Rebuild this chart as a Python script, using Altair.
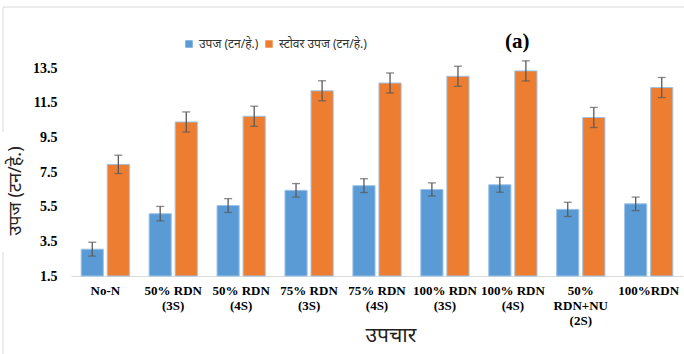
import altair as alt
import pandas as pd

categories = ["No-N", "50% RDN|(3S)", "50% RDN|(4S)", "75% RDN|(3S)", "75% RDN|(4S)",
              "100% RDN|(3S)", "100% RDN|(4S)", "50%|RDN+NU|(2S)", "100%RDN"]
series = ["उपज (टन/हे.)", "स्टोवर उपज (टन/हे.)"]
grain = [3.05, 5.1, 5.57, 6.45, 6.72, 6.5, 6.77, 5.35, 5.67]
grain_err = [0.4, 0.42, 0.4, 0.39, 0.4, 0.38, 0.43, 0.41, 0.39]
stover = [7.95, 10.4, 10.73, 12.2, 12.65, 13.04, 13.35, 10.66, 12.39]
stover_err = [0.53, 0.58, 0.58, 0.58, 0.58, 0.58, 0.58, 0.58, 0.58]
y_ticks = [1.5, 3.5, 5.5, 7.5, 9.5, 11.5, 13.5]
colors = ["#5B9BD5", "#ED7D31"]

rows = []
for i, c in enumerate(categories):
    rows.append({"cat": c, "series": series[0], "val": grain[i], "err": grain_err[i]})
    rows.append({"cat": c, "series": series[1], "val": stover[i], "err": stover_err[i]})
df = pd.DataFrame(rows)
df["lo"] = df["val"] - df["err"]
df["hi"] = df["val"] + df["err"]

DEV = "Noto Sans, sans-serif"
SERIF = "Liberation Serif, Times New Roman, serif"

xscale = alt.Scale(paddingInner=0.29, paddingOuter=0.15)
xaxis = alt.Axis(title=None, labelExpr="split(datum.label, '|')",
                 labelAngle=0, labelFont=SERIF, labelFontWeight="bold",
                 labelFontSize=13, labelColor="#000000", labelPadding=8,
                 labelLineHeight=15, ticks=False, domainColor="#D9D9D9",
                 labelLimit=200, labelOverlap=False)
yaxis = alt.Axis(title=None, values=y_ticks, format=".1f", grid=False,
                 domain=False, ticks=False, labelFont=SERIF,
                 labelFontWeight="bold", labelFontSize=14,
                 labelColor="#000000", labelPadding=14,
                 labelOverlap=False)
xenc = alt.X("cat:N", sort=categories, scale=xscale, axis=xaxis)
xoff = alt.XOffset("series:N", sort=series,
                   scale=alt.Scale(paddingInner=0.15, paddingOuter=0))
yscale = alt.Scale(domain=[1.5, 14.5], nice=False, zero=False)

base = alt.Chart(df)

bars = base.mark_bar(stroke="#9DC3E6", strokeWidth=1).encode(
    x=xenc, xOffset=xoff,
    y=alt.Y("val:Q", scale=yscale, axis=yaxis),
    y2=alt.datum(1.5),
    color=alt.Color("series:N", sort=series,
                    scale=alt.Scale(domain=series, range=colors),
                    legend=alt.Legend(title=None, orient="none", legendX=112, legendY=-13,
                                      direction="horizontal", symbolType="square",
                                      symbolSize=55, symbolStrokeWidth=0,
                                      labelFont=DEV, labelFontSize=12,
                                      labelColor="#333333", columnPadding=4,
                                      symbolOffset=0)),
)

rules = base.mark_rule(color="#595959", strokeWidth=1.3).encode(
    x=xenc, xOffset=xoff,
    y=alt.Y("lo:Q", scale=yscale, axis=yaxis), y2="hi:Q",
)
caps_hi = base.mark_tick(color="#595959", size=8, thickness=1.3, orient="horizontal").encode(
    x=xenc, xOffset=xoff,
    y=alt.Y("hi:Q", scale=yscale, axis=yaxis),
)
caps_lo = base.mark_tick(color="#595959", size=8, thickness=1.3, orient="horizontal").encode(
    x=xenc, xOffset=xoff,
    y=alt.Y("lo:Q", scale=yscale, axis=yaxis),
)

one = pd.DataFrame({"t": ["(a)"]})
label_a = alt.Chart(one).mark_text(font=SERIF, fontWeight="bold", fontSize=21,
                                   align="left", baseline="middle", color="#000000").encode(
    x=alt.value(434), y=alt.value(-9), text="t:N")

ytitle = alt.Chart(pd.DataFrame({"t": ["उपज (टन/हे.)"]})).mark_text(
    font=DEV, fontSize=18, angle=270, align="center", baseline="middle",
    color="#222222").encode(x=alt.value(-55), y=alt.value(140), text="t:N")

xtitle = alt.Chart(pd.DataFrame({"t": ["उपचार"]})).mark_text(
    font=DEV, fontSize=21, align="center", baseline="middle",
    color="#222222").encode(x=alt.value(320), y=alt.value(285), text="t:N")

frame_top = alt.Chart(one).mark_rule(color="#D9D9D9", strokeWidth=1).encode(
    x=alt.value(-68), x2=alt.value(613), y=alt.value(-44))
frame_l1 = alt.Chart(one).mark_rule(color="#D9D9D9", strokeWidth=1).encode(
    x=alt.value(-68), y=alt.value(-44), y2=alt.value(81))
frame_l2 = alt.Chart(one).mark_rule(color="#D9D9D9", strokeWidth=1).encode(
    x=alt.value(-68), y=alt.value(201), y2=alt.value(310))

chart = alt.layer(bars, rules, caps_hi, caps_lo, frame_top, frame_l1, frame_l2,
                  label_a, ytitle, xtitle).properties(
    width=612, height=225,
    autosize=alt.AutoSizeParams(type="none"),
    padding={"left": 71, "top": 51, "right": 1, "bottom": 78},
    background="white",
).configure_view(stroke=None)

chart.save("out.html", embed_options={"renderer": "svg", "actions": False})
